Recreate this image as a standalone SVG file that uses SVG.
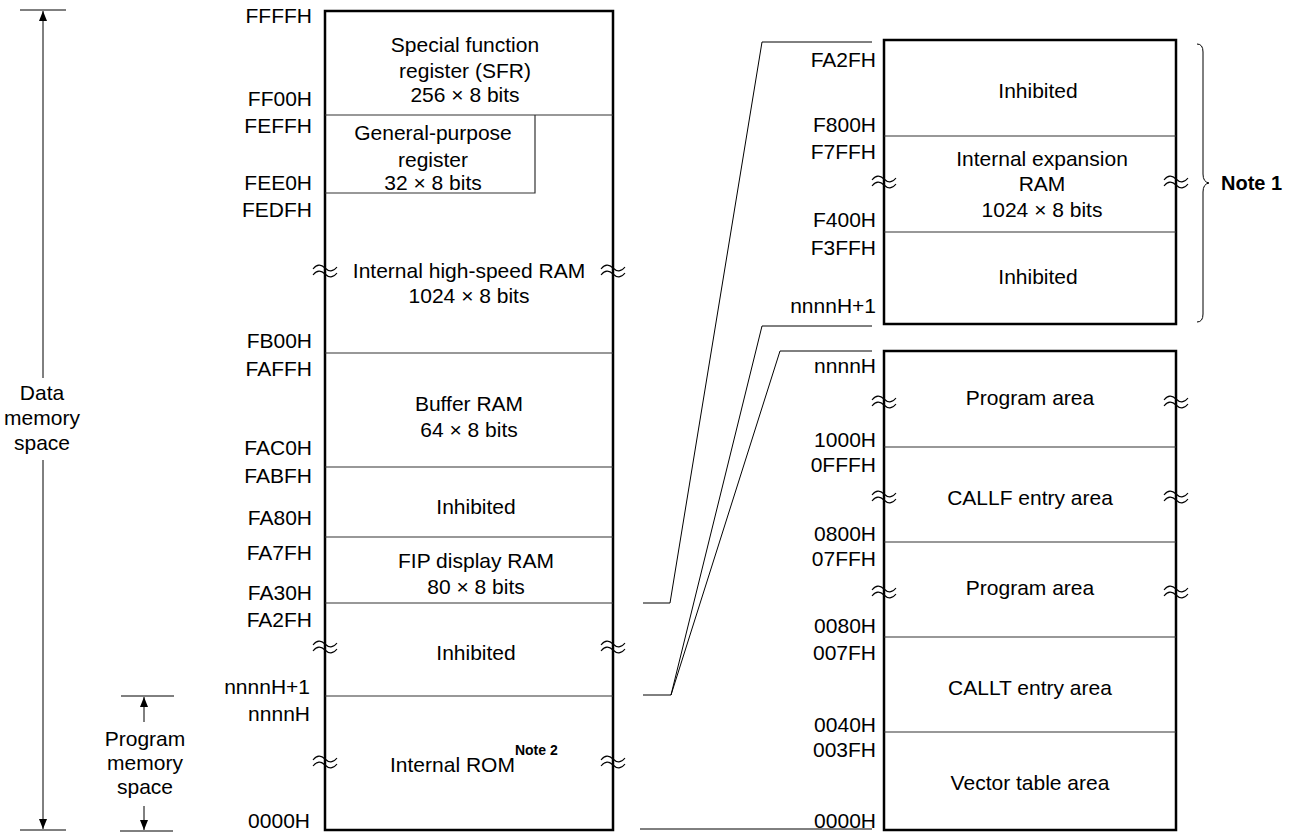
<svg xmlns="http://www.w3.org/2000/svg" xmlns:xlink="http://www.w3.org/1999/xlink" width="1299" height="833" viewBox="0 0 1299 833">
  <style>
    text { font-family: "Liberation Sans", Arial, sans-serif; font-size: 21px; fill: #000; }
    .addr { text-anchor: end; }
    .mid { text-anchor: middle; }
    .note { font-weight: bold; font-size: 20px; }
    .sup { font-weight: bold; font-size: 14px; }
    .frame { fill: none; stroke: #000; stroke-width: 2.5; }
    .div { stroke: #333; stroke-width: 1.2; fill: none; }
    .thin { stroke: #000; stroke-width: 1; fill: none; }
    .brk { stroke: #000; stroke-width: 1.1; fill: none; }
  </style>
  <defs>
    <marker id="arrow" markerUnits="userSpaceOnUse" markerWidth="10" markerHeight="8" refX="10" refY="4" orient="auto">
      <path d="M0,0 L10,4 L0,8 z" fill="#000"/>
    </marker>
    <!-- double-wave break mark, centred on the box edge -->
    <path id="brk" class="brk" d="M-12,-3 c4,-5 8,-5 12,-1 s8,4 12,-1 M-12,3 c4,-5 8,-5 12,-1 s8,4 12,-1"/>
  </defs>

  <!-- extent markers on the left -->
  <g id="data-space">
    <line class="thin" x1="20" y1="10" x2="66" y2="10"/>
    <line class="thin" x1="20" y1="830" x2="66" y2="830"/>
    <line class="thin" x1="43" y1="378" x2="43" y2="11" marker-end="url(#arrow)"/>
    <line class="thin" x1="43" y1="460" x2="43" y2="829" marker-end="url(#arrow)"/>
    <text class="mid" x="42" y="400">Data</text>
    <text class="mid" x="42" y="425">memory</text>
    <text class="mid" x="42" y="450">space</text>
  </g>
  <g id="program-space">
    <line class="thin" x1="121" y1="696" x2="174" y2="696"/>
    <line class="thin" x1="120" y1="831" x2="173" y2="831"/>
    <line class="thin" x1="144" y1="722" x2="144" y2="697" marker-end="url(#arrow)"/>
    <line class="thin" x1="144" y1="806" x2="144" y2="830" marker-end="url(#arrow)"/>
    <text class="mid" x="145" y="746">Program</text>
    <text class="mid" x="145" y="770">memory</text>
    <text class="mid" x="145" y="794">space</text>
  </g>

  <!-- main memory map -->
  <g id="memory-map">
    <rect class="frame" x="325" y="11" width="288" height="819"/>
    <g id="sfr">
      <line class="div" x1="325" y1="115" x2="613" y2="115"/>
      <text class="mid" x="465" y="52">Special function</text>
      <text class="mid" x="465" y="78">register (SFR)</text>
      <text class="mid" x="465" y="102">256 × 8 bits</text>
    </g>
    <g id="gpr">
      <path class="div" d="M325,193 H535 V115"/>
      <text class="mid" x="433" y="140">General-purpose</text>
      <text class="mid" x="433" y="167">register</text>
      <text class="mid" x="433" y="190">32 × 8 bits</text>
    </g>
    <g id="high-speed-ram">
      <text class="mid" x="469" y="278">Internal high-speed RAM</text>
      <text class="mid" x="469" y="303">1024 × 8 bits</text>
      <use xlink:href="#brk" x="325" y="272"/>
      <use xlink:href="#brk" x="613" y="272"/>
    </g>
    <g id="buffer-ram">
      <line class="div" x1="325" y1="353" x2="613" y2="353"/>
      <text class="mid" x="469" y="411">Buffer RAM</text>
      <text class="mid" x="469" y="437">64 × 8 bits</text>
    </g>
    <g id="inhibited-fabf">
      <line class="div" x1="325" y1="467" x2="613" y2="467"/>
      <text class="mid" x="476" y="514">Inhibited</text>
    </g>
    <g id="fip-ram">
      <line class="div" x1="325" y1="537" x2="613" y2="537"/>
      <text class="mid" x="476" y="568">FIP display RAM</text>
      <text class="mid" x="476" y="594">80 × 8 bits</text>
    </g>
    <g id="inhibited-fa2f">
      <line class="div" x1="325" y1="603" x2="613" y2="603"/>
      <text class="mid" x="476" y="660">Inhibited</text>
      <use xlink:href="#brk" x="325" y="648"/>
      <use xlink:href="#brk" x="613" y="648"/>
    </g>
    <g id="internal-rom">
      <line class="div" x1="325" y1="696" x2="613" y2="696"/>
      <text x="390" y="772">Internal ROM<tspan class="sup" dy="-17">Note 2</tspan></text>
      <use xlink:href="#brk" x="325" y="763"/>
      <use xlink:href="#brk" x="613" y="763"/>
    </g>
    <g id="memory-map-addresses">
      <text class="addr" x="312" y="23">FFFFH</text>
      <text class="addr" x="312" y="106">FF00H</text>
      <text class="addr" x="312" y="133">FEFFH</text>
      <text class="addr" x="312" y="190">FEE0H</text>
      <text class="addr" x="312" y="217">FEDFH</text>
      <text class="addr" x="312" y="348">FB00H</text>
      <text class="addr" x="312" y="376">FAFFH</text>
      <text class="addr" x="312" y="455">FAC0H</text>
      <text class="addr" x="312" y="483">FABFH</text>
      <text class="addr" x="312" y="525">FA80H</text>
      <text class="addr" x="312" y="560">FA7FH</text>
      <text class="addr" x="312" y="600">FA30H</text>
      <text class="addr" x="312" y="627">FA2FH</text>
      <text class="addr" x="310" y="694">nnnnH+1</text>
      <text class="addr" x="310" y="721">nnnnH</text>
      <text class="addr" x="310" y="828">0000H</text>
    </g>
  </g>

  <!-- expansion RAM detail -->
  <g id="expansion-detail">
    <rect class="frame" x="884" y="40" width="292" height="284"/>
    <line class="div" x1="884" y1="136" x2="1176" y2="136"/>
    <line class="div" x1="884" y1="232" x2="1176" y2="232"/>
    <text class="mid" x="1038" y="98">Inhibited</text>
    <text class="mid" x="1042" y="166">Internal expansion</text>
    <text class="mid" x="1042" y="191">RAM</text>
    <text class="mid" x="1042" y="217">1024 × 8 bits</text>
    <text class="mid" x="1038" y="284">Inhibited</text>
    <use xlink:href="#brk" x="884" y="183"/>
    <use xlink:href="#brk" x="1176" y="183"/>
    <text class="addr" x="876" y="67">FA2FH</text>
    <text class="addr" x="876" y="132">F800H</text>
    <text class="addr" x="876" y="159">F7FFH</text>
    <text class="addr" x="876" y="227">F400H</text>
    <text class="addr" x="876" y="255">F3FFH</text>
    <text class="addr" x="876" y="313">nnnnH+1</text>
  </g>
  <g id="note1">
    <path class="thin" d="M1197,44 Q1203,44 1203,52 V174 Q1203,182 1209,183 Q1203,184 1203,192 V314 Q1203,322 1197,322"/>
    <text class="note" x="1221" y="190">Note 1</text>
  </g>

  <!-- internal ROM detail -->
  <g id="rom-detail">
    <rect class="frame" x="884" y="351" width="292" height="479"/>
    <line class="div" x1="884" y1="447" x2="1176" y2="447"/>
    <line class="div" x1="884" y1="542" x2="1176" y2="542"/>
    <line class="div" x1="884" y1="637" x2="1176" y2="637"/>
    <line class="div" x1="884" y1="732" x2="1176" y2="732"/>
    <text class="mid" x="1030" y="405">Program area</text>
    <text class="mid" x="1030" y="505">CALLF entry area</text>
    <text class="mid" x="1030" y="595">Program area</text>
    <text class="mid" x="1030" y="695">CALLT entry area</text>
    <text class="mid" x="1030" y="790">Vector table area</text>
    <use xlink:href="#brk" x="884" y="403"/>
    <use xlink:href="#brk" x="1176" y="403"/>
    <use xlink:href="#brk" x="884" y="498"/>
    <use xlink:href="#brk" x="1176" y="498"/>
    <use xlink:href="#brk" x="884" y="593"/>
    <use xlink:href="#brk" x="1176" y="593"/>
    <text class="addr" x="876" y="373">nnnnH</text>
    <text class="addr" x="876" y="447">1000H</text>
    <text class="addr" x="876" y="472">0FFFH</text>
    <text class="addr" x="876" y="541">0800H</text>
    <text class="addr" x="876" y="566">07FFH</text>
    <text class="addr" x="876" y="633">0080H</text>
    <text class="addr" x="876" y="660">007FH</text>
    <text class="addr" x="876" y="732">0040H</text>
    <text class="addr" x="876" y="757">003FH</text>
    <text class="addr" x="876" y="828">0000H</text>
  </g>

  <!-- zoom lines from the memory map to the detail boxes -->
  <g id="connectors">
    <polyline class="thin" points="643,603 670,603 762,42 872,42"/>
    <polyline class="thin" points="643,695 671,695 762,326 872,326"/>
    <polyline class="thin" points="671,695 780,351 872,351"/>
    <line class="thin" x1="640" y1="829" x2="872" y2="829"/>
  </g>
</svg>
